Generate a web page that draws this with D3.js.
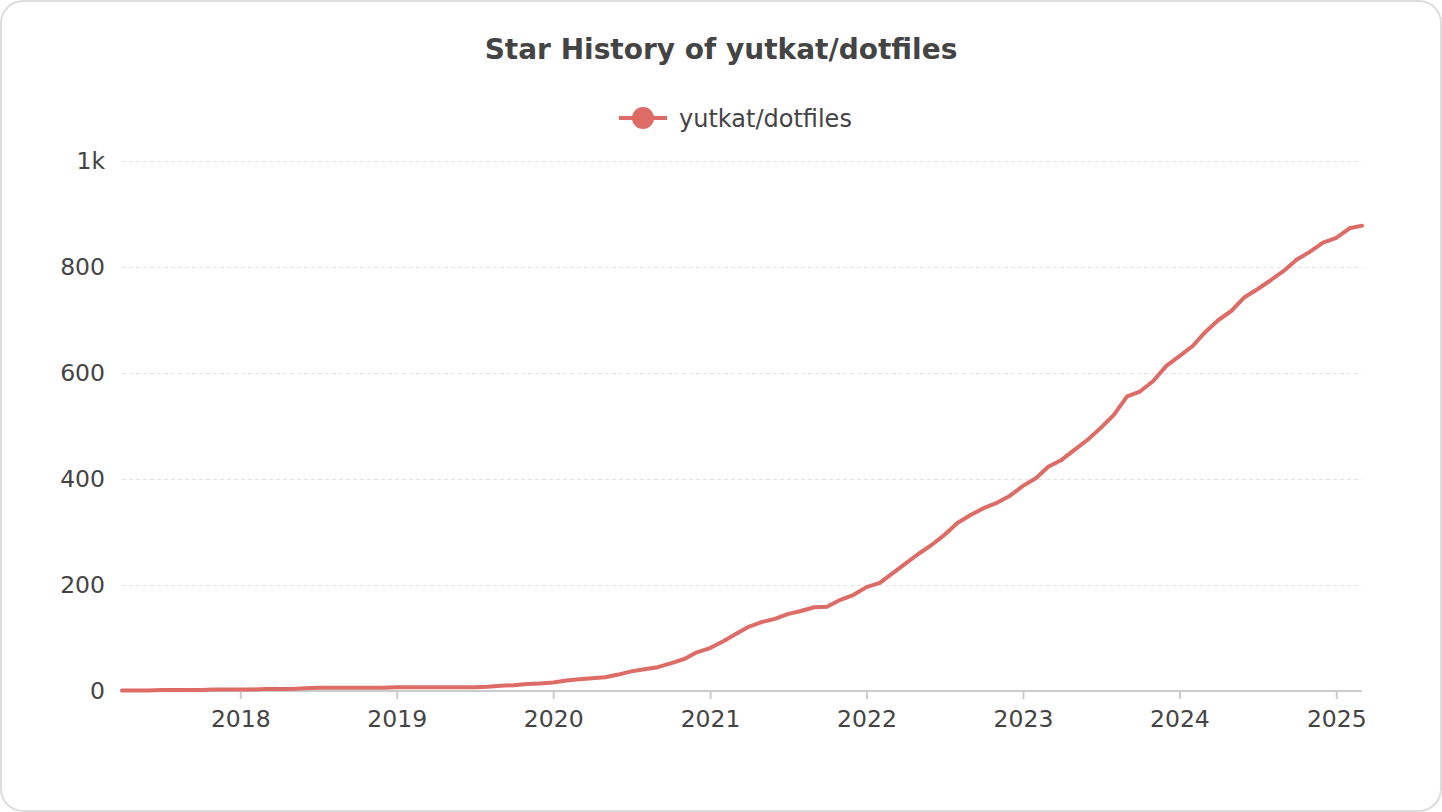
<!DOCTYPE html>
<html><head><meta charset="utf-8">
<script src="https://cdn.jsdelivr.net/npm/d3@7"></script>
<style>
html,body{margin:0;padding:0;background:#fff;}
svg{display:block;font-family:"DejaVu Sans",sans-serif;}
</style></head>
<body>
<svg id="chart" width="1442" height="812"></svg>
<script>
const title = "Star History of yutkat/dotfiles";
const seriesName = "yutkat/dotfiles";
const dates = [
 "2017-03-31","2017-05-01","2017-06-01","2017-07-01","2017-08-01","2017-09-01","2017-10-01","2017-11-01","2017-12-01",
 "2018-01-01","2018-02-01","2018-03-01","2018-04-01","2018-05-01","2018-06-01","2018-07-01","2018-08-01","2018-09-01","2018-10-01","2018-11-01","2018-12-01",
 "2019-01-01","2019-02-01","2019-03-01","2019-04-01","2019-05-01","2019-06-01","2019-07-01","2019-08-01","2019-09-01","2019-10-01","2019-11-01","2019-12-01",
 "2020-01-01","2020-02-01","2020-03-01","2020-04-01","2020-05-01","2020-06-01","2020-07-01","2020-08-01","2020-09-01","2020-10-01","2020-11-01","2020-12-01",
 "2021-01-01","2021-02-01","2021-03-01","2021-04-01","2021-05-01","2021-06-01","2021-07-01","2021-08-01","2021-09-01","2021-10-01","2021-11-01","2021-12-01",
 "2022-01-01","2022-02-01","2022-03-01","2022-04-01","2022-05-01","2022-06-01","2022-07-01","2022-08-01","2022-09-01","2022-10-01","2022-11-01","2022-12-01",
 "2023-01-01","2023-02-01","2023-03-01","2023-04-01","2023-05-01","2023-06-01","2023-07-01","2023-08-01","2023-09-01","2023-10-01","2023-11-01","2023-12-01",
 "2024-01-01","2024-02-01","2024-03-01","2024-04-01","2024-05-01","2024-06-01","2024-07-01","2024-08-01","2024-09-01","2024-10-01","2024-11-01","2024-12-01",
 "2025-01-01","2025-02-01","2025-03-02"
];
const stars = [
 1,1,1,2,2,2,2,3,3,
 3,3,4,4,4,5,6,6,6,6,6,6,
 7,7,7,7,7,7,7,8,10,11,13,14,
 16,20,22,24,26,31,37,41,45,52,60,73,
 81,94,107,121,130,136,145,151,158,159,172,181,
 196,204,221,240,258,275,294,317,332,345,355,368,
 387,402,423,436,455,474,496,521,556,565,585,613,
 632,651,677,700,717,743,758,775,793,814,829,846,
 855,873,878
];
const yTicks = [0,200,400,600,800,1000];
const yTickLabels = ["0","200","400","600","800","1k"];
const xTickYears = [2018,2019,2020,2021,2022,2023,2024,2025];

(function(){
const color = "#dd6b66";
const textColor = "#444";
const svg = d3.select("#chart");
const parse = d3.timeParse("%Y-%m-%d");
const data = dates.map((d,i)=>({date:parse(d), value:stars[i]}));

const pL = 122, pR = 1362, pT = 161, pB = 691;
const x = d3.scaleTime().domain(d3.extent(data,d=>d.date)).range([pL,pR]);
const y = d3.scaleLinear().domain([0,1000]).range([pB,pT]);

// frame
svg.append("rect").attr("x",1).attr("y",1).attr("width",1440).attr("height",810)
  .attr("rx",22).attr("ry",22).attr("fill","#fff").attr("stroke","#ddd").attr("stroke-width",2);

// title
svg.append("text").attr("x",721).attr("y",59).attr("text-anchor","middle")
  .attr("font-size",28).attr("font-weight","bold").attr("fill",textColor).text(title);

// legend
const lg = svg.append("g");
lg.append("line").attr("x1",619).attr("x2",667).attr("y1",118).attr("y2",118)
  .attr("stroke",color).attr("stroke-width",4);
lg.append("circle").attr("cx",643).attr("cy",118).attr("r",11).attr("fill",color);
lg.append("text").attr("x",679).attr("y",127).attr("font-size",24).attr("fill",textColor).text(seriesName);

// grid
const yAxis = d3.axisLeft(y).tickValues(yTicks).tickSize(-(pR-pL)).tickPadding(17)
  .tickFormat((d,i)=>yTickLabels[i]);
const gy = svg.append("g").attr("transform",`translate(${pL},0)`).call(yAxis);
gy.select(".domain").remove();
gy.selectAll(".tick line").attr("stroke","#e3e3e3").attr("stroke-dasharray","4,3").attr("stroke-width",1)
  .filter(d=>d===0).remove();
gy.selectAll(".tick text").attr("font-size",23.5).attr("fill",textColor).attr("font-family","DejaVu Sans");

// x axis
const xAxis = d3.axisBottom(x).tickValues(xTickYears.map(yr=>new Date(yr,0,1)))
  .tickFormat(d3.timeFormat("%Y")).tickSize(8).tickPadding(11);
const gx = svg.append("g").attr("transform",`translate(0,${pB})`).call(xAxis);
gx.select(".domain").attr("stroke","#ccc").attr("stroke-width",2).attr("d",`M${pL},0H${pR}`);
gx.selectAll(".tick line").attr("stroke","#ccc").attr("stroke-width",2);
gx.selectAll(".tick text").attr("font-size",23.5).attr("fill",textColor).attr("font-family","DejaVu Sans");

// line
const line = d3.line().x(d=>x(d.date)).y(d=>y(d.value));
svg.append("path").datum(data).attr("d",line).attr("fill","none")
  .attr("stroke",color).attr("stroke-width",4).attr("stroke-linejoin","round").attr("stroke-linecap","round");
})();
</script>
</body></html>
